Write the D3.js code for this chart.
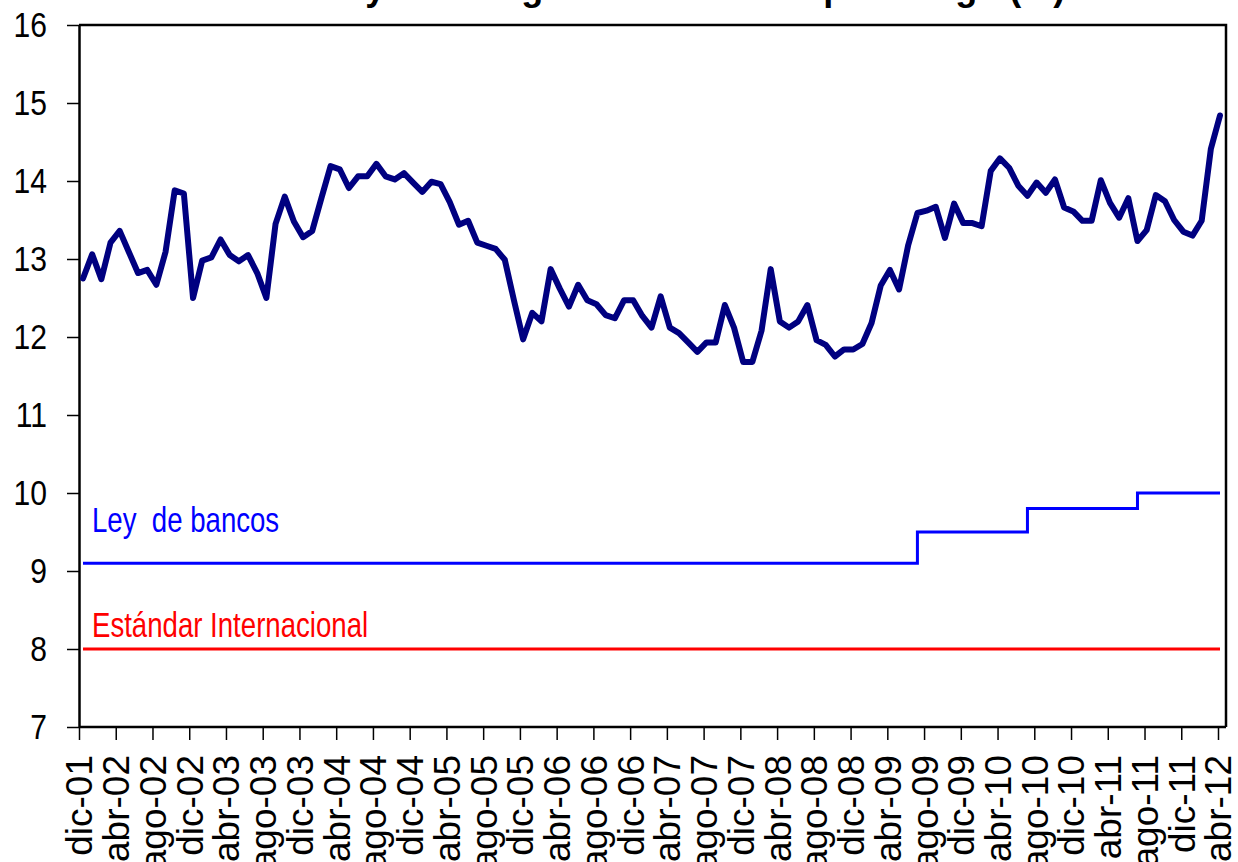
<!DOCTYPE html>
<html>
<head>
<meta charset="utf-8">
<script src="https://cdn.jsdelivr.net/npm/d3@7"></script>
<style>
  body { margin: 0; background: #fff; }
  svg { display: block; font-family: "Liberation Sans", Arial, sans-serif; }
</style>
</head>
<body>
<div class="chart"></div>
<script>
// ratio mensual, dic-01 .. abr-12
var ratio = [12.75, 13.06, 12.74, 13.21, 13.36, 13.09, 12.82, 12.86, 12.67, 13.09,
  13.88, 13.84, 12.50, 12.98, 13.02, 13.25, 13.05, 12.97, 13.05, 12.82,
  12.50, 13.45, 13.80, 13.48, 13.28, 13.36, 13.78, 14.19, 14.15, 13.91,
  14.06, 14.06, 14.22, 14.06, 14.02, 14.10, 13.98, 13.86, 13.99, 13.96,
  13.73, 13.44, 13.49, 13.21, 13.17, 13.13, 12.99, 12.47, 11.97, 12.31,
  12.20, 12.87, 12.62, 12.39, 12.67, 12.47, 12.42, 12.28, 12.24, 12.47,
  12.47, 12.27, 12.12, 12.52, 12.12, 12.05, 11.93, 11.81, 11.93, 11.93,
  12.41, 12.12, 11.68, 11.68, 12.08, 12.87, 12.20, 12.12, 12.20, 12.41,
  11.96, 11.90, 11.75, 11.84, 11.84, 11.91, 12.18, 12.66, 12.86, 12.61,
  13.18, 13.59, 13.62, 13.67, 13.27, 13.71, 13.46, 13.46, 13.42, 14.13,
  14.29, 14.17, 13.94, 13.81, 13.98, 13.85, 14.02, 13.66, 13.61, 13.49,
  13.49, 14.01, 13.72, 13.53, 13.78, 13.23, 13.37, 13.82, 13.74, 13.50,
  13.35, 13.30, 13.49, 14.41, 14.84];

// ley de bancos: mes de inicio de cada tramo y su valor
var leyMes = [0, 91, 103, 115, 124];
var leyValor = [9.1, 9.5, 9.8, 10, 10];

var estandarMes = [0, 124];
var estandarValor = [8, 8];

var etiquetas = ["dic-01","abr-02","ago-02","dic-02","abr-03","ago-03","dic-03","abr-04",
  "ago-04","dic-04","abr-05","ago-05","dic-05","abr-06","ago-06","dic-06",
  "abr-07","ago-07","dic-07","abr-08","ago-08","dic-08","abr-09","ago-09",
  "dic-09","abr-10","ago-10","dic-10","abr-11","ago-11","dic-11","abr-12"];

var yTicks = [7, 8, 9, 10, 11, 12, 13, 14, 15, 16];

var width = 1238, height = 862;
var mLeft = 79, mRight = 1226, mTop = 25, mBottom = 727;

var svg = d3.select(".chart")
  .append("svg")
    .attr("width", width)
    .attr("height", height);

var x = d3.scaleLinear().domain([0, ratio.length - 1]).range([83, 1220]);
var xTick = d3.scaleLinear().domain([0, ratio.length - 1]).range([mLeft, 1218]);
var y = d3.scaleLinear().domain([7, 16]).range([mBottom, mTop]);

// titulo (cortado arriba)
svg.append("text")
  .attr("x", 29)
  .attr("y", 0)
  .attr("font-size", 36)
  .attr("font-weight", "bold")
  .text("Solvencia bancaria y nivel regulatorio mínimo por riesgo (%)");

// marco
svg.append("path")
  .attr("d", "M" + mLeft + "," + mTop + "H" + mRight + "V" + mBottom)
  .attr("fill", "none")
  .attr("stroke", "#000")
  .attr("stroke-width", 2.5);

// eje y
var yAxis = svg.append("g")
  .attr("transform", "translate(" + mLeft + ",0)")
  .call(d3.axisLeft(y).tickValues(yTicks).tickSize(12).tickSizeOuter(0).tickPadding(20));
yAxis.select(".domain").attr("stroke-width", 2.5);
yAxis.selectAll(".tick line").attr("stroke-width", 1.5);
yAxis.selectAll(".tick text")
  .attr("x", 0)
  .attr("transform", "translate(-32,0) scale(0.86,1)")
  .attr("font-size", 35)
  .attr("fill", "#000")
  .attr("font-family", "Liberation Sans, Arial, sans-serif");

// eje x
var xAxis = svg.append("g")
  .attr("transform", "translate(0," + mBottom + ")")
  .call(d3.axisBottom(xTick)
    .tickValues(d3.range(0, ratio.length, 4))
    .tickFormat(function(d) { return etiquetas[d / 4]; })
    .tickSize(13).tickSizeOuter(0));
xAxis.select(".domain").attr("stroke-width", 2.5).attr("d", "M" + mLeft + ",0H" + mRight);
xAxis.selectAll(".tick line").attr("stroke-width", 1.5);
xAxis.selectAll(".tick text")
  .attr("transform", "rotate(-90)")
  .attr("x", -28)
  .attr("y", 0)
  .attr("dy", "0.35em")
  .style("text-anchor", "end")
  .attr("font-size", 37)
  .attr("fill", "#000")
  .attr("font-family", "Liberation Sans, Arial, sans-serif");

// lineas de referencia
var lineaEst = d3.line()
  .x(function(d, i) { return x(estandarMes[i]); })
  .y(function(d) { return y(d); });
svg.append("path")
  .datum(estandarValor)
  .attr("d", lineaEst)
  .attr("fill", "none")
  .attr("stroke", "#ff0000")
  .attr("stroke-width", 3);

var lineaLey = d3.line()
  .curve(d3.curveStepAfter)
  .x(function(d, i) { return x(leyMes[i]); })
  .y(function(d) { return y(d); });
svg.append("path")
  .datum(leyValor)
  .attr("d", lineaLey)
  .attr("fill", "none")
  .attr("stroke", "#0000ff")
  .attr("stroke-width", 3);

// serie principal
var linea = d3.line()
  .x(function(d, i) { return x(i); })
  .y(function(d) { return y(d); });
svg.append("path")
  .datum(ratio)
  .attr("d", linea)
  .attr("fill", "none")
  .attr("stroke", "#000080")
  .attr("stroke-width", 6)
  .attr("stroke-linejoin", "round")
  .attr("stroke-linecap", "round");

// rotulos
svg.append("text")
  .attr("transform", "translate(92," + (y(9.1) - 31) + ") scale(0.8,1)")
  .attr("font-size", 34.5)
  .attr("fill", "#0000ff")
  .style("white-space", "pre")
  .text("Ley  de bancos");

svg.append("text")
  .attr("transform", "translate(92," + (y(8) - 12) + ") scale(0.8,1)")
  .attr("font-size", 34.5)
  .attr("fill", "#ff0000")
  .text("Estándar Internacional");
</script>
</body>
</html>
